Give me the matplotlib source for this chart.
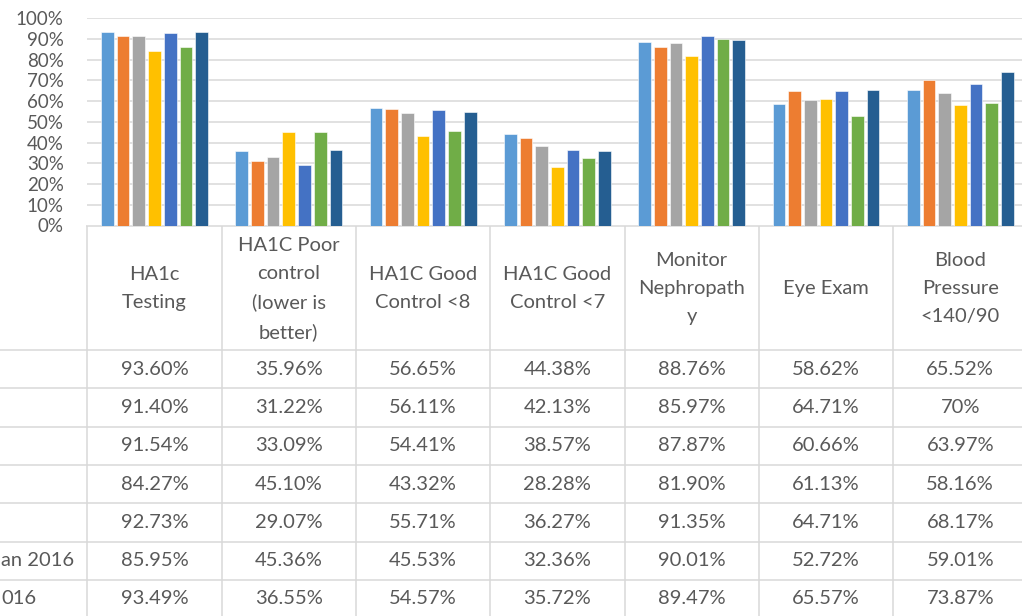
import numpy as np
import matplotlib.pyplot as plt
from matplotlib.ticker import FuncFormatter

plt.rcParams['font.family'] = ['Lato', 'DejaVu Sans']

# categories (table header) and one series per table row
categories = [
    "HA1c\nTesting",
    "HA1C Poor\ncontrol\n(lower is\nbetter)",
    "HA1C Good\nControl <8",
    "HA1C Good\nControl <7",
    "Monitor\nNephropath\ny",
    "Eye Exam",
    "Blood\nPressure\n<140/90",
]
# row labels are cropped at the left edge of the picture; only these parts show
row_labels = ["", "", "", "", "", "an 2016", "016"]
row_values = [
    [93.60, 35.96, 56.65, 44.38, 88.76, 58.62, 65.52],
    [91.40, 31.22, 56.11, 42.13, 85.97, 64.71, 70.00],
    [91.54, 33.09, 54.41, 38.57, 87.87, 60.66, 63.97],
    [84.27, 45.10, 43.32, 28.28, 81.90, 61.13, 58.16],
    [92.73, 29.07, 55.71, 36.27, 91.35, 64.71, 68.17],
    [85.95, 45.36, 45.53, 32.36, 90.01, 52.72, 59.01],
    [93.49, 36.55, 54.57, 35.72, 89.47, 65.57, 73.87],
]
row_text = [
    ["93.60%", "35.96%", "56.65%", "44.38%", "88.76%", "58.62%", "65.52%"],
    ["91.40%", "31.22%", "56.11%", "42.13%", "85.97%", "64.71%", "70%"],
    ["91.54%", "33.09%", "54.41%", "38.57%", "87.87%", "60.66%", "63.97%"],
    ["84.27%", "45.10%", "43.32%", "28.28%", "81.90%", "61.13%", "58.16%"],
    ["92.73%", "29.07%", "55.71%", "36.27%", "91.35%", "64.71%", "68.17%"],
    ["85.95%", "45.36%", "45.53%", "32.36%", "90.01%", "52.72%", "59.01%"],
    ["93.49%", "36.55%", "54.57%", "35.72%", "89.47%", "65.57%", "73.87%"],
]
colors = ["#5B9BD5", "#ED7D31", "#A5A5A5", "#FFC000", "#4472C4", "#70AD47", "#255E91"]

W, H = 1022, 616
TXT = "#595959"
GRID = "#d9d9d9"

# layout in pixels
col_left = 87.3
col_w = 134.3
y_zero = 225.5
y_top = 18.3
header_bottom = 350.0
row_h = 38.3

fig = plt.figure(figsize=(W / 100, H / 100), dpi=100)

ax = fig.add_axes([col_left / W, 1 - y_zero / H,
                   7 * col_w / W, (y_zero - y_top) / H])
x = np.arange(len(categories))
pitch = 15.7 / col_w
bw = 12.7 / col_w
n = len(row_values)
for i, vals in enumerate(row_values):
    ax.bar(x + (i - (n - 1) / 2) * pitch, np.array(vals) / 100, width=bw,
           color=colors[i], edgecolor="white", linewidth=0.4, zorder=3)

ax.set_xlim(-0.5, len(categories) - 0.5)
ax.set_ylim(0, 1)
ax.set_yticks(np.arange(0, 1.01, 0.1))
ax.yaxis.set_major_formatter(FuncFormatter(lambda v, p: f"{v * 100:.0f}%"))
ax.tick_params(axis="y", length=0, pad=17, labelsize=13.5, labelcolor=TXT)
ax.set_xticks([])
ax.grid(axis="y", color=GRID, linewidth=1.1, zorder=0)
for s in ax.spines.values():
    s.set_visible(False)

# data table underneath
tab = fig.add_axes([0, 0, 1, 1], zorder=-1)
tab.set_xlim(0, W)
tab.set_ylim(H, 0)
tab.axis("off")

lw = 1.1
tab.plot([col_left, W], [y_zero, y_zero], color=GRID, lw=lw)
for k in range(len(categories) + 1):
    xe = col_left + k * col_w
    tab.plot([xe, xe], [y_zero, H], color=GRID, lw=lw)
for r in range(n + 1):
    ye = header_bottom + r * row_h
    tab.plot([0, W], [ye, ye], color=GRID, lw=lw)

for k, cat in enumerate(categories):
    xc = col_left + (k + 0.5) * col_w
    tab.text(xc, (y_zero + header_bottom) / 2 + 1, cat, ha="center", va="center",
             fontsize=14.5, color=TXT, linespacing=1.78)
    for r in range(n):
        yc = header_bottom + (r + 0.5) * row_h
        tab.text(xc, yc, row_text[r][k], ha="center", va="center",
                 fontsize=14.5, color=TXT)

for r, lab in enumerate(row_labels):
    if lab:
        yc = header_bottom + (r + 0.5) * row_h
        tab.text(1, yc, lab, ha="left", va="center",
                 fontsize=14.5, color=TXT)

fig.savefig("out.png", dpi=100)
